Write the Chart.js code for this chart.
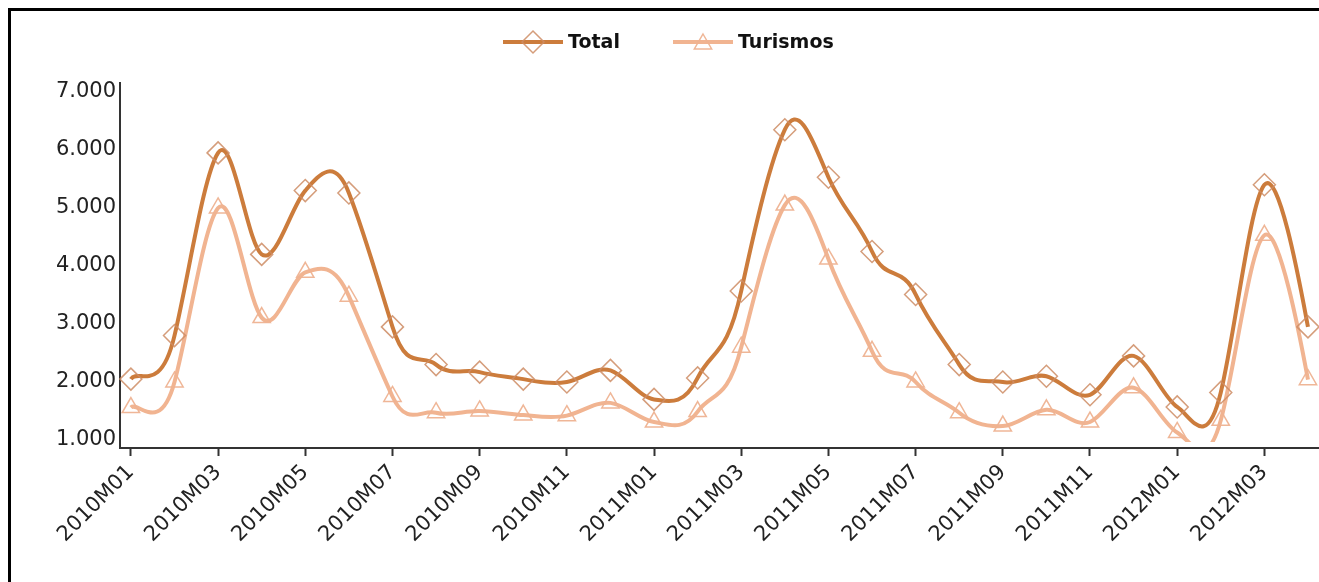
<!DOCTYPE html>
<html>
<head>
<meta charset="utf-8">
<script src="https://cdn.jsdelivr.net/npm/chart.js@4"></script>
<style>
  html, body { margin: 0; padding: 0; background: #fff; }
  #wrap { width: 1319px; height: 582px; position: relative; }
</style>
</head>
<body>
<div id="wrap"><canvas id="lineChart"></canvas></div>
<script>
// months on the x axis
const months = [
    "2010M01", "2010M02", "2010M03", "2010M04", "2010M05", "2010M06",
    "2010M07", "2010M08", "2010M09", "2010M10", "2010M11", "2010M12",
    "2011M01", "2011M02", "2011M03", "2011M04", "2011M05", "2011M06",
    "2011M07", "2011M08", "2011M09", "2011M10", "2011M11", "2011M12",
    "2012M01", "2012M02", "2012M03", "2012M04",
];

const total = [
    2050, 2800, 5950, 4200, 5300, 5260, 2950, 2300, 2170, 2050, 2000, 2200,
    1700, 2070, 3570, 6350, 5530, 4250, 3510, 2300, 2000, 2100, 1780, 2450,
    1570, 1820, 5400, 2950,
];

const turismos = [
    1560, 2000, 5000, 3110, 3890, 3480, 1750, 1470, 1500, 1430, 1420, 1640,
    1310, 1490, 2600, 5050, 4120, 2530, 2000, 1470, 1240, 1520, 1310, 1900,
    1130, 1340, 4530, 2040,
];

const yTicks = [1000, 2000, 3000, 4000, 5000, 6000, 7000];

const totalColor = "rgb(204, 124, 60)";
const turismosColor = "rgb(241, 180, 145)";
const totalMarker = "rgba(206, 140, 100, 0.85)";
const turismosMarker = "rgba(238, 178, 145, 0.95)";
const fontFamily = "'DejaVu Sans', Verdana, sans-serif";

function fmt(v) {
    return String(v).replace(/\B(?=(\d{3})+(?!\d))/g, ".");
}

// smoother, evenly spaced spline (the original chart overshoots between points)
const smoothPlugin = {
    id: "smooth",
    beforeDatasetsDraw(chart) {
        chart.data.datasets.forEach((ds, di) => {
            const line = chart.getDatasetMeta(di).dataset;
            line.updateControlPoints(chart.chartArea, "x");
            const pts = line.points;
            pts.forEach((p, i) => {
                const prev = pts[i - 1] || p;
                const next = pts[i + 1] || p;
                const dx = (next.x - prev.x) / 6;
                const dy = (next.y - prev.y) * 0.27;
                p.cp1x = p.x - dx;
                p.cp1y = p.y - dy;
                p.cp2x = p.x + dx;
                p.cp2y = p.y + dy;
            });
        });
    },
};

// frame + legend drawn around the chart
const framePlugin = {
    id: "frame",
    beforeDraw(chart) {
        const ctx = chart.ctx;
        ctx.save();
        ctx.fillStyle = "#fff";
        ctx.fillRect(0, 0, chart.width, chart.height);
        ctx.strokeStyle = "#000";
        ctx.lineWidth = 3;
        ctx.beginPath();
        ctx.moveTo(chart.width, 9.5);
        ctx.lineTo(9.5, 9.5);
        ctx.lineTo(9.5, chart.height);
        ctx.stroke();
        ctx.restore();
    },
    afterDraw(chart) {
        const ctx = chart.ctx;
        const items = [
            { text: "Total", color: totalColor, marker: totalMarker, style: "diamond", x: 503 },
            { text: "Turismos", color: turismosColor, marker: turismosMarker, style: "triangle", x: 673 },
        ];
        const y = 42;
        ctx.save();
        items.forEach((it) => {
            ctx.strokeStyle = it.color;
            ctx.lineWidth = 4;
            ctx.beginPath();
            ctx.moveTo(it.x, y);
            ctx.lineTo(it.x + 60, y);
            ctx.stroke();
            const cx = it.x + 30;
            ctx.strokeStyle = it.marker;
            ctx.lineWidth = 1.5;
            ctx.beginPath();
            if (it.style === "diamond") {
                const r = 11;
                ctx.moveTo(cx, y - r);
                ctx.lineTo(cx + r, y);
                ctx.lineTo(cx, y + r);
                ctx.lineTo(cx - r, y);
            } else {
                const r = 10;
                ctx.moveTo(cx, y - r + 2);
                ctx.lineTo(cx + r * 0.866, y + r / 2 + 2);
                ctx.lineTo(cx - r * 0.866, y + r / 2 + 2);
            }
            ctx.closePath();
            ctx.stroke();
            ctx.fillStyle = "#111";
            ctx.font = "bold 19px " + fontFamily;
            ctx.textBaseline = "middle";
            ctx.textAlign = "left";
            ctx.fillText(it.text, it.x + 65, y + 1);
        });
        ctx.restore();
    },
};

window.onload = function () {
    // the original cuts the curves just under the 1.000 level
    const clipArea = { left: 15, right: 15, top: 15, bottom: -6 };
    const lineData = {
        datasets: [
            {
                label: "Total",
                data: total.map((v, i) => ({ x: i, y: v })),
                borderColor: totalColor,
                borderWidth: 4,
                pointStyle: "rectRot",
                pointRadius: 11,
                pointBorderWidth: 1.5,
                pointBorderColor: totalMarker,
                pointBackgroundColor: "rgba(0,0,0,0)",
                tension: 0.4,
                clip: clipArea,
            },
            {
                label: "Turismos",
                data: turismos.map((v, i) => ({ x: i, y: v })),
                borderColor: turismosColor,
                borderWidth: 4,
                pointStyle: "triangle",
                pointRadius: 10,
                pointBorderWidth: 1.5,
                pointBorderColor: turismosMarker,
                pointBackgroundColor: "rgba(0,0,0,0)",
                tension: 0.4,
                clip: clipArea,
            },
        ],
    };

    const lineConfig = {
        type: "line",
        data: lineData,
        plugins: [framePlugin, smoothPlugin],
        options: {
            responsive: true,
            maintainAspectRatio: false,
            animation: false,
            layout: {
                autoPadding: false,
                padding: { top: 83, left: 10, right: 1, bottom: 0 },
            },
            plugins: {
                legend: { display: false },
                tooltip: { enabled: false },
            },
            scales: {
                x: {
                    type: "linear",
                    min: -0.25,
                    max: 27.23,
                    afterBuildTicks: (scale) => {
                        scale.ticks = months
                            .map((m, i) => ({ value: i }))
                            .filter((t) => t.value % 2 === 0);
                    },
                    afterFit: (scale) => {
                        scale.height = 134;
                        scale.paddingLeft = 0;
                        scale.paddingRight = 0;
                    },
                    ticks: {
                        autoSkip: false,
                        minRotation: 45,
                        maxRotation: 45,
                        padding: 4,
                        color: "#222",
                        font: { family: fontFamily, size: 21 },
                        callback: (v) => months[v],
                    },
                    grid: {
                        display: true,
                        drawOnChartArea: false,
                        drawTicks: true,
                        tickLength: 8,
                        tickColor: "#333",
                        tickWidth: 2,
                    },
                    border: { display: true, color: "#333", width: 2 },
                },
                y: {
                    type: "linear",
                    min: 862,
                    max: 7155,
                    afterBuildTicks: (scale) => {
                        scale.ticks = yTicks.map((v) => ({ value: v }));
                    },
                    afterFit: (scale) => {
                        scale.width = 110;
                    },
                    ticks: {
                        padding: 4,
                        color: "#222",
                        font: { family: fontFamily, size: 21 },
                        callback: (v) => fmt(v),
                    },
                    grid: { display: false, drawTicks: false },
                    border: { display: true, color: "#333", width: 2 },
                },
            },
        },
    };

    const lineCtx = document.getElementById("lineChart")?.getContext("2d");
    if (lineCtx) {
        new Chart(lineCtx, lineConfig);
    } else {
        console.error("No canvas with id='lineChart'");
    }
};
</script>
</body>
</html>
